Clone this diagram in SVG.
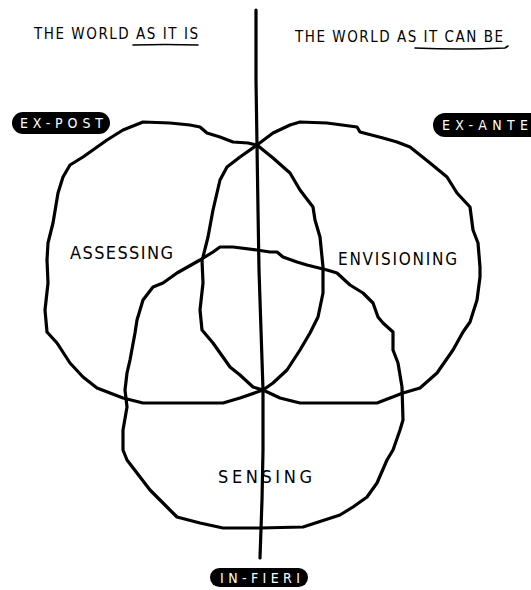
<svg xmlns="http://www.w3.org/2000/svg" width="531" height="590" viewBox="0 0 531 590">
<style>
.ln{fill:none;stroke:#000;stroke-width:3.2;stroke-linejoin:round;stroke-linecap:round}
.t{font-family:"DejaVu Sans Condensed","DejaVu Sans",sans-serif;fill:#000}
.pt{font-family:"DejaVu Sans Condensed","DejaVu Sans",sans-serif;fill:#fff;font-size:14px}
.pill{fill:#000}
</style>
<rect width="531" height="590" fill="#fff"/>
<g id="connectors">
<path id="divider" class="ln" d="M256,10 L256,80 L257,145 L258,210 L259,270 L261,330 L263,390 L263,450 L262,500 L260,558"/>
</g>
<g id="assessing">
<path class="ln" d="M143,122 L170,123 L190,125 L200,127 L207,133 L220,137 L233,142 L248,143 L257,145 L273,158 L290,173 L300,190 L313,207 L315,220 L320,237 L323,267 L323,293 L318,317 L310,333 L300,350 L287,370 L273,383 L263,390 L240,398 L223,403 L143,403 L123,398 L97,388 L83,377 L70,363 L57,343 L47,332 L45,310 L48,283 L47,260 L48,243 L53,223 L58,193 L63,177 L70,165 L83,157 L107,140 L123,130 Z"/>
<text class="t" x="70" y="259" font-size="18" textLength="103" lengthAdjust="spacing">ASSESSING</text>
</g>
<g id="envisioning">
<path class="ln" d="M257,145 L273,133 L290,125 L300,122 L327,123 L357,127 L360,132 L383,138 L397,142 L410,147 L430,163 L447,177 L457,193 L470,207 L473,230 L478,243 L480,267 L480,277 L477,300 L470,322 L463,332 L453,350 L437,373 L420,388 L403,393 L377,403 L300,403 L280,398 L263,390 L253,387 L240,375 L230,367 L213,343 L202,330 L200,310 L203,283 L202,260 L203,257 L208,237 L213,210 L220,180 L227,167 L240,157 Z"/>
<text class="t" x="338" y="265" font-size="17" textLength="119" lengthAdjust="spacing">ENVISIONING</text>
</g>
<g id="sensing">
<path class="ln" d="M200,260 L213,252 L220,247 L233,247 L257,250 L270,252 L277,252 L283,257 L297,262 L307,265 L327,270 L337,273 L350,285 L363,293 L373,303 L378,317 L383,323 L393,332 L393,350 L398,363 L402,387 L403,420 L400,430 L393,450 L387,460 L377,483 L367,497 L353,507 L340,515 L303,527 L260,528 L223,528 L200,523 L177,517 L167,507 L160,500 L150,490 L127,460 L123,450 L123,430 L127,407 L125,390 L127,373 L130,360 L135,333 L137,320 L143,300 L153,287 L163,283 L177,273 Z"/>
<text class="t" x="218" y="483" font-size="18" textLength="94" lengthAdjust="spacing">SENSING</text>
</g>
<g id="header-left">
<text class="t" x="34" y="39" font-size="15" textLength="164" lengthAdjust="spacing">THE WORLD AS IT IS</text>
<path class="ln" style="stroke-width:1.6" d="M133,45 Q165,44 198,45"/>
</g>
<g id="header-right">
<text class="t" x="295" y="42" font-size="15" textLength="208" lengthAdjust="spacing">THE WORLD AS IT CAN BE</text>
<path class="ln" style="stroke-width:1.6" d="M415,48 Q460,50 505,48 L508,46"/>
</g>
<g id="ex-post">
<rect class="pill" x="12" y="112" width="98" height="22" rx="11"/>
<text class="pt" x="20" y="128" textLength="83" lengthAdjust="spacing">EX-POST</text>
</g>
<g id="ex-ante">
<rect class="pill" x="433" y="113" width="115" height="24" rx="12"/>
<text class="pt" x="442" y="130" textLength="86" lengthAdjust="spacing">EX-ANTE</text>
</g>
<g id="in-fieri">
<rect class="pill" x="210" y="568" width="98" height="19" rx="9.5"/>
<text class="pt" x="220" y="583" textLength="80" lengthAdjust="spacing">IN-FIERI</text>
</g>
</svg>
